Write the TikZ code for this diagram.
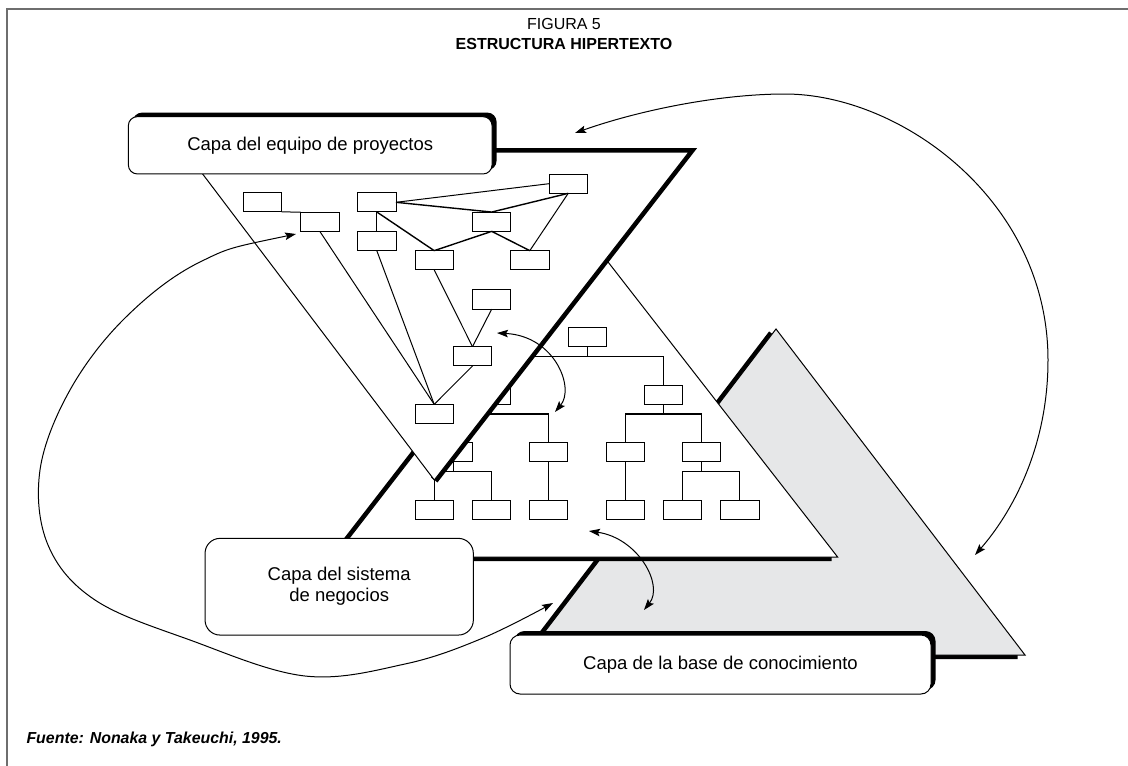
\documentclass[tikz,border=0pt]{standalone}
\usepackage{fontspec}
\setmainfont{Liberation Sans}
\usetikzlibrary{arrows.meta,shadows,calc}
\definecolor{grayfill}{HTML}{E6E7E8}
\definecolor{framecol}{HTML}{6E6E6E}
\begin{document}
\begin{tikzpicture}[x=1pt,y=-1pt,
  thinedge/.style={line width=1pt, line join=miter},
  thickedge/.style={line width=8pt, line join=miter, line cap=butt},
  sbox/.style={draw, line width=1pt, fill=white, minimum width=38.4pt, minimum height=19.3pt, inner sep=0pt, outer sep=0pt},
  link/.style={line width=1pt},
  blink/.style={line width=1.4pt},
  org/.style={line width=1.2pt},
  lbl/.style={font=\fontsize{18.5}{21}\selectfont, align=center},
  layerbox/.style={draw, line width=1pt, fill=white, inner sep=0pt, outer sep=0pt},
  boxshadow/.style={drop shadow={shadow xshift=4.5pt, shadow yshift=4pt, opacity=1, fill=black}},
  tip/.style={Stealth[length=11pt,width=7.5pt,inset=2pt]},
  arr/.style={line width=1pt, {Stealth[length=11pt,width=7.5pt,inset=2pt]}-{Stealth[length=11pt,width=7.5pt,inset=2pt]}}
]
\useasboundingbox (0,0) rectangle (1128,766);

% frame
\draw[framecol, line width=1.5pt] (7,770) -- (7,9) -- (1132,9);

% titles
\node[font=\fontsize{16}{19}\selectfont] (t1) at (564,24) {FIGURA 5};
\node[font=\bfseries\fontsize{16}{19}\selectfont] (t2) at (564,44) {ESTRUCTURA HIPERTEXTO};
\node[anchor=base west, font=\bfseries\itshape\fontsize{15.9}{19}\selectfont] (src) at (23,743) {Fuente: Nonaka y Takeuchi, 1995.};

% triangle vertices
\coordinate (PTL) at (186,152);
\coordinate (PTR) at (689,152);
\coordinate (PA) at (434.3,480);
\coordinate (BA) at (585.5,233);
\coordinate (BL) at (334.6,557);
\coordinate (BR) at (837.6,557);
\coordinate (GA) at (776,329);
\coordinate (GL) at (527,655);
\coordinate (GR) at (1025,655);

% knowledge-base layer (gray)
\draw[thickedge] ($(GA)!0.015!(GL)$) -- (GL) -- ($(GR)!0.015!(GL)$);
\filldraw[fill=grayfill, thinedge] (GA) -- (GL) -- (GR) -- cycle;

% business-system layer
\draw[thickedge] (BA) -- (BL) -- ($(BR)!0.012!(BL)$);
\filldraw[fill=white, thinedge] (BA) -- (BL) -- (BR) -- cycle;

% business tree
\node[sbox] (R) at (587.5,337) {};
\node[sbox] (L1) at (491.2,394.7) {};
\node[sbox] (R1) at (663.3,394.7) {};
\node[sbox] (L1a) at (453.3,452.3) {};
\node[sbox] (L1b) at (548.5,452.3) {};
\node[sbox] (R1a) at (625.2,452.3) {};
\node[sbox] (R1b) at (701.7,452.3) {};
\node[sbox] (L1a1) at (434.2,510.3) {};
\node[sbox] (L1a2) at (491.5,510.3) {};
\node[sbox] (L1b1) at (548.5,510.3) {};
\node[sbox] (R1a1) at (625.2,510.3) {};
\node[sbox] (R1b1) at (682.5,510.3) {};
\node[sbox] (R1b2) at (739.8,510.3) {};
\draw[org] (R.south) -- ++(0,9.65) coordinate (r0);
\draw[org] (L1.north) |- (r0) -| (R1.north);
\draw[org] (L1.south) -- ++(0,9.65) coordinate (l0);
\draw[org] (L1a.north) |- (l0) -| (L1b.north);
\draw[org] (R1.south) -- ++(0,9.65) coordinate (q0);
\draw[org] (R1a.north) |- (q0) -| (R1b.north);
\draw[org] (L1a.south) -- ++(0,9.65) coordinate (l1);
\draw[org] (L1a1.north) |- (l1) -| (L1a2.north);
\draw[org] (L1b.south) -- (L1b1.north);
\draw[org] (R1a.south) -- (R1a1.north);
\draw[org] (R1b.south) -- ++(0,9.65) coordinate (q1);
\draw[org] (R1b1.north) |- (q1) -| (R1b2.north);

% project-team layer
\draw[thickedge] (PTL) -- (PTR) -- (PA);
\filldraw[fill=white, thinedge] (PTL) -- (PTR) -- (PA) -- cycle;

% project tree
\node[sbox] (A) at (262.5,202.3) {};
\node[sbox] (B) at (319.8,221.7) {};
\node[sbox] (C) at (376.8,202.3) {};
\node[sbox] (D) at (376.8,241) {};
\node[sbox] (E) at (568.2,183.7) {};
\node[sbox] (F) at (491.7,221.7) {};
\node[sbox] (G) at (434.2,260.3) {};
\node[sbox] (H) at (529.8,260.3) {};
\node[sbox] (I) at (491.7,299.5) {};
\node[sbox] (J) at (472.5,356.3) {};
\node[sbox] (K) at (434.2,414) {};
\draw[link] (A.south east) -- (B.north west);
\draw[link] (B.south) -- (K.north);
\draw[link] (D.south) -- (K.north);
\draw[link] (C.south) -- (D.north);
\draw[link] (C.east) -- (E.west);
\draw[blink] (C.east) -- (F.north);
\draw[blink] (E.south) -- (F.north);
\draw[link] (E.south) -- (H.north);
\draw[blink] (C.south) -- (G.north);
\draw[blink] (F.south) -- (G.north);
\draw[blink] (F.south) -- (H.north);
\draw[link] (G.south) -- (J.north);
\draw[link] (I.south) -- (J.north);
\draw[link] (J.south) -- (K.north);

% layer labels
\node[layerbox, rounded corners=9pt, boxshadow, minimum width=363.7pt, minimum height=57.3pt, lbl] (boxP) at (310.2,145.3) {Capa del equipo de proyectos};
\node[layerbox, rounded corners=15pt, minimum width=268.3pt, minimum height=96.7pt, lbl] (boxB) at (339.2,586.7) {Capa del sistema\\de negocios};
\node[layerbox, rounded corners=10pt, boxshadow, minimum width=421pt, minimum height=59pt, lbl] (boxK) at (720.5,664.5) {Capa de la base de conocimiento};

% arrows
\coordinate (a1s) at (296,234);
\coordinate (a1e) at (553,603);
\coordinate (a2s) at (575,133);
\coordinate (a2e) at (975,555);
\coordinate (a3s) at (497,333);
\coordinate (a3e) at (555,412);
\coordinate (a4s) at (589,531);
\coordinate (a4e) at (644,610);
\draw[arr] plot[smooth, tension=0.6] coordinates {(a1s) (200,262) (125,318) (70,390) (40,470) (48,545) (95,600) (190,640) (305,676) (405,664) (483,638) (a1e)};
\draw[arr] (a2s) .. controls (640,110) and (720,94) .. (785,94) .. controls (900,94) and (1048,200) .. (1048,360) .. controls (1048,450) and (1010,515) .. (a2e);
\draw[arr] (a3s) .. controls (555,336) and (575,388) .. (a3e);
\draw[arr] (a4s) .. controls (638,538) and (664,585) .. (a4e);
\end{tikzpicture}
\end{document}
